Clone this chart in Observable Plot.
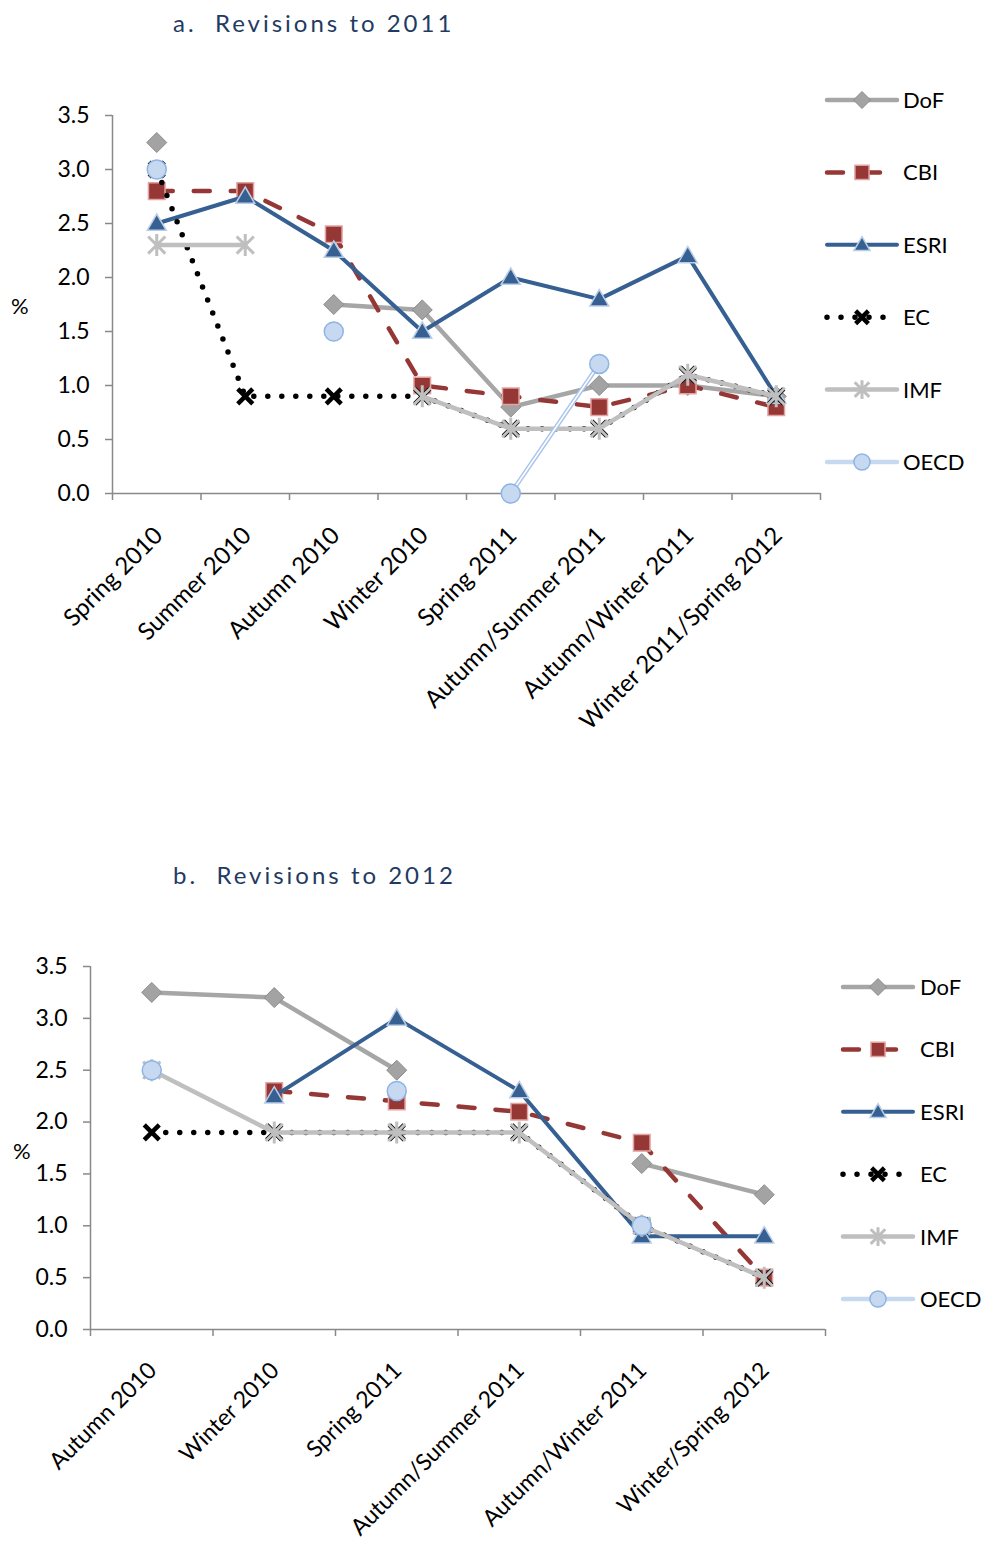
<!DOCTYPE html>
<html>
<head>
<meta charset="utf-8">
<script src="https://cdn.jsdelivr.net/npm/d3@7"></script>
<script src="https://cdn.jsdelivr.net/npm/@observablehq/plot@0.6"></script>
<style>
  body { margin: 0; background: #fff; }
  #page { position: relative; width: 982px; height: 1546px; font-family: Lato, "Open Sans", sans-serif; color: #000; }
  .title { position: absolute; left: 173px; font-size: 24px; letter-spacing: 3px; color: #1f3b63; white-space: pre; line-height: 1; }
  .pct { position: absolute; font-size: 22px; line-height: 1; }
  .panel { position: absolute; left: 0; }
  .legend { position: absolute; overflow: visible; }
</style>
</head>
<body>
<div id="page"></div>
<script>
// ---- Panel a: revisions to 2011 growth forecast ----
const cats2011 = ["Spring 2010", "Summer 2010", "Autumn 2010", "Winter 2010", "Spring 2011",
                  "Autumn/Summer 2011", "Autumn/Winter 2011", "Winter 2011/Spring 2012"];
const dof2011  = [3.25, null, 1.75, 1.7, 0.8, 1.0, 1.0, 0.9];
const cbi2011  = [2.8, 2.8, 2.4, 1.0, 0.9, 0.8, 1.0, 0.8];
const esri2011 = [2.5, 2.75, 2.25, 1.5, 2.0, 1.8, 2.2, 0.9];
const ec2011   = [3.0, 0.9, 0.9, 0.9, 0.6, 0.6, 1.1, 0.9];
const imf2011  = [2.3, 2.3, null, 0.9, 0.6, 0.6, 1.1, 0.9];
const oecd2011 = [3.0, null, 1.5, null, 0.0, 1.2, null, null];

// ---- Panel b: revisions to 2012 growth forecast ----
const cats2012 = ["Autumn 2010", "Winter 2010", "Spring 2011", "Autumn/Summer 2011",
                  "Autumn/Winter 2011", "Winter/Spring 2012"];
const dof2012  = [3.25, 3.2, 2.5, null, 1.6, 1.3];
const cbi2012  = [null, 2.3, 2.2, 2.1, 1.8, 0.5];
const esri2012 = [null, 2.25, 3.0, 2.3, 0.9, 0.9];
const ec2012   = [1.9, 1.9, 1.9, 1.9, 1.0, 0.5];
const imf2012  = [2.5, 1.9, 1.9, 1.9, 1.0, 0.5];
const oecd2012 = [2.5, null, 2.3, null, 1.0, null];

const seriesNames = ["DoF", "CBI", "ESRI", "EC", "IMF", "OECD"];
const yTicks = [0, 0.5, 1, 1.5, 2, 2.5, 3, 3.5];

// Marker shapes: half-extent derived from the symbol area Plot passes in (π r²)
const shape = fn => ({ draw(ctx, size) { fn(ctx, Math.sqrt(size / Math.PI)); } });
const diamond = shape((c, r) => { c.moveTo(0, -r); c.lineTo(r, 0); c.lineTo(0, r); c.lineTo(-r, 0); c.closePath(); });
const square = shape((c, r) => { c.rect(-r, -r, 2 * r, 2 * r); });
const triangle = shape((c, r) => { c.moveTo(0, -r); c.lineTo(r, r * 0.72); c.lineTo(-r, r * 0.72); c.closePath(); });
const times = shape((c, r) => { c.moveTo(-r, -r); c.lineTo(r, r); c.moveTo(-r, r); c.lineTo(r, -r); });
const star = shape((c, r) => {
  const d = r * 0.78;
  c.moveTo(-d, -d); c.lineTo(d, d); c.moveTo(-d, d); c.lineTo(d, -d); c.moveTo(0, -r); c.lineTo(0, r);
});
const circle = shape((c, r) => { c.moveTo(r, 0); c.arc(0, 0, r, 0, 2 * Math.PI); });

const styles = {
  DoF:  { stroke: "#a6a6a6", width: 4.5, symbol: diamond,  r: 10,  fill: "#a3a3a3", mstroke: "#8c8c8c", msw: 1 },
  CBI:  { stroke: "#953735", width: 4.5, dash: "16 21", symbol: square, r: 8.3, fill: "#953735", mstroke: "#e3a3a2", msw: 1.5 },
  ESRI: { stroke: "#376092", width: 4,   symbol: triangle, r: 9.5, fill: "#376092", mstroke: "#b9cde5", msw: 1.5 },
  EC:   { stroke: "#000000", width: 5.5, dash: "0 14", symbol: times, r: 7.5, fill: "none", mstroke: "#000000", msw: 4.5 },
  IMF:  { stroke: "#bfbfbf", width: 4.5, symbol: star,     r: 11,  fill: "none",    mstroke: "#bfbfbf", msw: 3 },
  OECD: { stroke: "#a9c5ea", width: 4.5, inner: "#ffffff", symbol: circle, r: 9.5, fill: "#c6d9f1", mstroke: "#8eb4e3", msw: 1.5 }
};

const axisGray = "#898989";
const font = "Lato, 'Open Sans', sans-serif";
const page = document.getElementById("page");

function addText(cls, text, left, top) {
  const d = document.createElement("div");
  d.className = cls; d.textContent = text;
  d.style.left = left + "px"; d.style.top = top + "px";
  page.appendChild(d);
}

function panel(cats, valueLists, frame) {
  const n = cats.length;
  const marks = [
    Plot.ruleY([0], { stroke: axisGray, strokeWidth: 1.5 }),
    Plot.ruleX([-0.5], { stroke: axisGray, strokeWidth: 1.5 }),
    Plot.axisY({ ticks: yTicks, tickFormat: d3.format(".1f"), tickSize: 7, tickPadding: 16,
                 fontSize: 23, stroke: axisGray, strokeWidth: 1.5, label: null }),
    Plot.axisX({ ticks: d3.range(n + 1).map(i => i - 0.5), tickFormat: () => "", tickSize: 7,
                 stroke: axisGray, strokeWidth: 1.5, label: null }),
    Plot.axisX({ ticks: d3.range(n), tickFormat: i => cats[i], tickSize: 0, tickPadding: frame.labelPad,
                 tickRotate: -45, fontSize: frame.labelSize, dx: frame.labelDx, label: null })
  ];
  seriesNames.forEach((name, k) => {
    const s = styles[name];
    const rows = valueLists[k].map((v, i) => ({ i, v: v ?? NaN }));
    marks.push(Plot.line(rows, { x: "i", y: "v", stroke: s.stroke, strokeWidth: s.width,
      strokeDasharray: s.dash, strokeLinecap: "round", strokeLinejoin: "round" }));
    if (s.inner) marks.push(Plot.line(rows, { x: "i", y: "v", stroke: s.inner, strokeWidth: 1.6 }));
    marks.push(Plot.dot(rows.filter(d => isFinite(d.v)), { x: "i", y: "v", symbol: s.symbol, r: s.r,
      fill: s.fill, stroke: s.mstroke, strokeWidth: s.msw }));
  });
  const chart = Plot.plot({
    width: 982, height: frame.height,
    marginLeft: frame.left, marginRight: 982 - frame.right,
    marginTop: frame.top, marginBottom: frame.height - frame.bottom,
    style: { fontFamily: font, color: "#000", background: "transparent", overflow: "visible" },
    x: { type: "linear", domain: [-0.5, n - 0.5] },
    y: { domain: [0, 3.5] },
    marks
  });
  chart.classList.add("panel");
  chart.style.top = frame.offset + "px";
  page.appendChild(chart);
}

function legend(left, top, gap, x0, x1, tx) {
  const svg = d3.create("svg").attr("class", "legend")
    .attr("width", 982 - left).attr("height", gap * 6 + 20)
    .style("left", left + "px").style("top", (top - 20) + "px");
  seriesNames.forEach((name, k) => {
    const s = styles[name];
    const y = 20 + k * gap;
    const g = svg.append("g");
    g.append("line").attr("x1", x0 - left).attr("x2", x1 - left).attr("y1", y).attr("y2", y)
      .attr("stroke", name === "OECD" ? "#c6d9f1" : s.stroke).attr("stroke-width", s.width)
      .attr("stroke-linecap", "round").attr("stroke-dasharray", s.dash ?? null);
    const mx = (x0 + x1) / 2 - left;
    g.append("path").attr("transform", `translate(${mx},${y})`)
      .attr("d", d3.symbol(s.symbol, Math.PI * (s.r * 0.85) ** 2)())
      .attr("fill", s.fill).attr("stroke", s.mstroke).attr("stroke-width", s.msw);
    g.append("text").attr("x", tx - left).attr("y", y).attr("dy", "0.36em")
      .attr("font-size", 22).attr("font-family", font).text(name);
  });
  page.appendChild(svg.node());
}

addText("title", "a.  Revisions to 2011", 173, 11);
addText("title", "b.  Revisions to 2012", 173, 863);
addText("pct", "%", 11, 295);
addText("pct", "%", 13, 1140);

panel(cats2011, [dof2011, cbi2011, esri2011, ec2011, imf2011, oecd2011],
  { offset: 0, height: 850, left: 112, right: 820, top: 115, bottom: 493,
    labelPad: 38, labelDx: 2, labelSize: 24 });
panel(cats2012, [dof2012, cbi2012, esri2012, ec2012, imf2012, oecd2012],
  { offset: 850, height: 696, left: 90, right: 825, top: 116, bottom: 479,
    labelPad: 37, labelDx: 1, labelSize: 23 });

legend(820, 100, 72.4, 827, 897, 903);
legend(835, 987, 62.4, 843, 913, 920);
</script>
</body>
</html>
